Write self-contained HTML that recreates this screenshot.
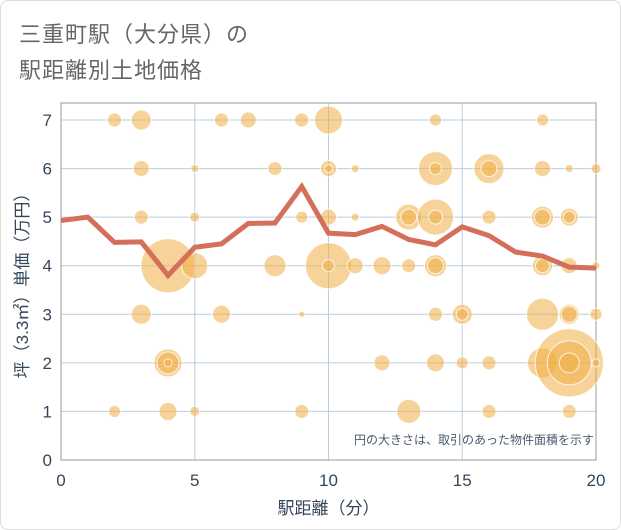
<!DOCTYPE html>
<html><head><meta charset="utf-8"><style>
body{margin:0;background:#fff;font-family:"Liberation Sans","Noto Sans CJK JP",sans-serif;}
#wrap{position:relative;width:619px;height:528px;border:1px solid #ddd;border-radius:8px;overflow:hidden}
.t{position:absolute;left:18px;color:#666;font-size:22px;letter-spacing:1px}
</style></head><body>
<div id="wrap">
<div class="t" style="top:16px">三重町駅（大分県）の</div>
<div class="t" style="top:52px">駅距離別土地価格</div>
<svg id="svg" width="621" height="530" style="position:absolute;left:-1px;top:-1px"></svg>
</div>
<script>
const xTicks=[0,5,10,15,20];
const yTicks=[0,1,2,3,4,5,6,7];
const bubbleX=[2,3,6,7,9,10,14,18, 3,5,8,10,10,11,14,14,16,16,18,19,20, 3,5,9,10,11,13,13,14,14,16,18,18,19,19, 4,5,8,10,10,11,12,13,14,14,18,18,19,20, 3,6,9,14,15,15,18,19,19,20, 4,4,4,12,14,15,16,18,19,19,19,20, 2,4,5,9,13,16,19];
const bubbleY=[7,7,7,7,7,7,7,7, 6,6,6,6,6,6,6,6,6,6,6,6,6, 5,5,5,5,5,5,5,5,5,5,5,5,5,5, 4,4,4,4,4,4,4,4,4,4,4,4,4,4, 3,3,3,3,3,3,3,3,3,3, 2,2,2,2,2,2,2,2,2,2,2,2, 1,1,1,1,1,1,1];
const bubbleSize=[7,10,7,8,7,14,6,6, 8,4,7,8,4,4,17,6,15,8,8,4,5, 7,5,6,8,4,13,8,18,7,7,11,8,9,6, 27,13,11,23,6,8,9,7,11,8,10,7,8,4, 10,9,3,7,10,6,16,10,8,6, 14,11,4,8,9,6,7,15,34,22,10,4, 6,9,5,7,12,7,7];
const lineX=[0,1,2,3,4,5,6,7,8,9,10,11,12,13,14,15,16,17,18,19,20];
const lineY=[4.93,5.0,4.48,4.49,3.8,4.38,4.45,4.87,4.88,5.63,4.67,4.64,4.81,4.54,4.43,4.8,4.62,4.28,4.2,3.97,3.95];
const svg=document.getElementById('svg');const NS='http://www.w3.org/2000/svg';
const X0=61,X1=596,Y0=460,Y1=120;
const sx=v=>X0+(X1-X0)*v/20, sy=v=>Y0-(Y0-Y1)*v/7;
function mk(t,a,p){const e=document.createElementNS(NS,t);for(const k in a)e.setAttribute(k,a[k]);(p||svg).appendChild(e);return e;}
const TXT='#34465c';
const grid=mk('g',{});
xTicks.forEach(v=>{const l=mk('line',{x1:sx(v),x2:sx(v),y1:103,y2:Y0,stroke:'#b8cde0','stroke-width':1},grid);
const t=mk('text',{x:sx(v),y:486,'text-anchor':'middle','font-size':17,fill:TXT});t.textContent=v;});
yTicks.forEach(v=>{const l=mk('line',{x1:X0,x2:X1,y1:sy(v),y2:sy(v),stroke:'#b8cde0','stroke-width':1},grid);
const t=mk('text',{x:52,y:sy(v)+6,'text-anchor':'end','font-size':17,fill:TXT});t.textContent=v;});
const fr=mk('rect',{x:X0,y:103,width:X1-X0,height:Y0-103,fill:'none',stroke:'#999','stroke-width':1});
const bg=mk('g',{});
bubbleX.forEach((x,i)=>{const c=mk('circle',{cx:sx(x),cy:sy(bubbleY[i]),r:bubbleSize[i],fill:'rgba(240,175,70,0.55)',stroke:'rgba(255,255,255,0.8)','stroke-width':1},bg);});
const pl=mk('polyline',{points:lineX.map((x,i)=>sx(x)+','+sy(lineY[i])).join(' '),fill:'none',stroke:'#d4705a','stroke-width':5,'stroke-linejoin':'miter'});
const n=mk('text',{x:594,y:444,'text-anchor':'end','font-size':12,fill:'#4a5a6e'});n.textContent='円の大きさは、取引のあった物件面積を示す';
const xt=mk('text',{x:sx(10),y:514,'text-anchor':'middle','font-size':17,fill:TXT});xt.textContent='駅距離（分）';
const yt=mk('text',{x:0,y:0,'text-anchor':'middle','font-size':17,fill:TXT,transform:'translate(28,'+((103+Y0)/2)+') rotate(-90)'});yt.textContent='坪（3.3㎡）単価（万円）';
</script>
</body></html>
